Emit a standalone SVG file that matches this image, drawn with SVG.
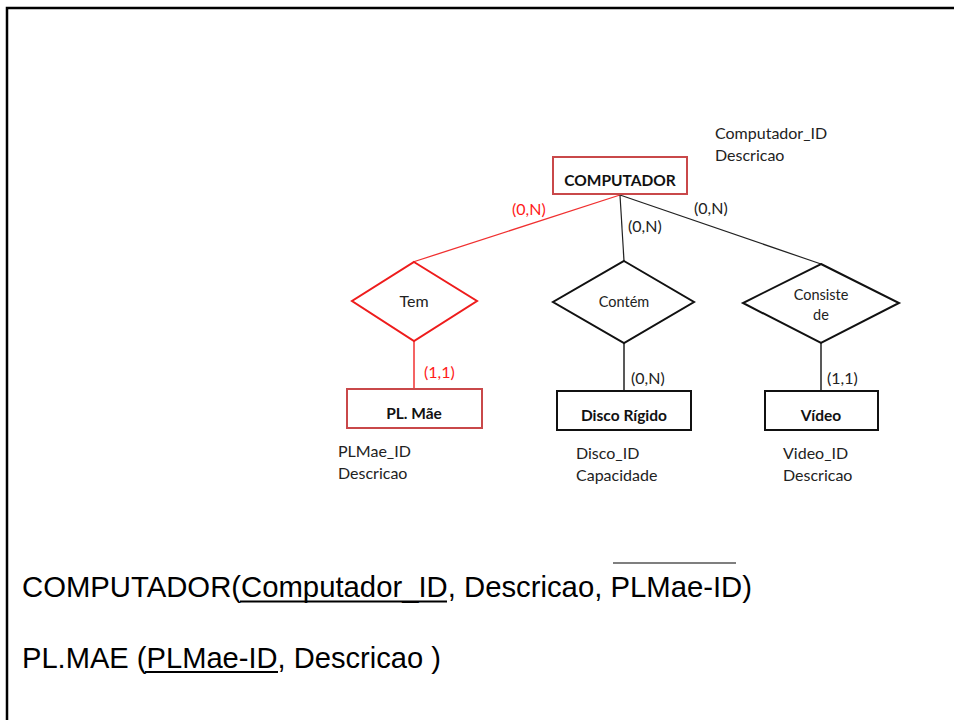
<svg xmlns="http://www.w3.org/2000/svg" width="954" height="720" viewBox="0 0 954 720">
<style>
.t{font-family:Lato,"Liberation Sans",sans-serif;font-size:16px;fill:#222}
.lb{font-family:Lato,"Liberation Sans",sans-serif;font-size:15.5px;font-weight:bold;fill:#111;text-anchor:middle}
.dl{font-family:Lato,"Liberation Sans",sans-serif;font-size:14.5px;fill:#222;text-anchor:middle}
.red{fill:#ff1a1a}
.ent{fill:#fff;stroke:#111;stroke-width:2}
.entr{fill:#fff;stroke:#c9484a;stroke-width:2}
.rel{fill:#fff;stroke:#111;stroke-width:2}
.relr{fill:#fff;stroke:#ee1c1c;stroke-width:2}
.big{font-family:"Liberation Sans",Arial,sans-serif;font-size:29px;fill:#000}
</style>
<rect x="0" y="0" width="954" height="720" fill="#fff"/>
<path d="M7,730 V8 H960" fill="none" stroke="#000" stroke-width="2.5"/>

<g id="connectors">
<line x1="620" y1="195" x2="413" y2="262" stroke="#f03030" stroke-width="1.3"/>
<line x1="620" y1="195" x2="624" y2="261" stroke="#222" stroke-width="1.2"/>
<line x1="620" y1="195" x2="821" y2="264" stroke="#222" stroke-width="1.2"/>
<line x1="414" y1="341" x2="414" y2="389" stroke="#f03030" stroke-width="1.5"/>
<line x1="624" y1="343" x2="624" y2="391" stroke="#222" stroke-width="1.5"/>
<line x1="821" y1="343" x2="821" y2="391" stroke="#222" stroke-width="1.5"/>
<text class="t red" x="512" y="215">(0,N)</text>
<text class="t" x="628" y="232">(0,N)</text>
<text class="t" x="694" y="214">(0,N)</text>
<text class="t red" x="424" y="378">(1,1)</text>
<text class="t" x="631" y="384">(0,N)</text>
<text class="t" x="827" y="384">(1,1)</text>
</g>

<g id="computador">
<rect class="entr" x="553" y="157" width="134" height="37"/>
<text class="lb" x="620" y="186">COMPUTADOR</text>
<text class="t" x="715" y="139">Computador_ID</text>
<text class="t" x="715" y="161">Descricao</text>
</g>

<g id="tem">
<polygon class="relr" points="414,262 477,301 414,341 352,301"/>
<text class="dl" x="414" y="307" style="font-size:16px">Tem</text>
</g>

<g id="contem">
<polygon class="rel" points="624,261 694,302 624,343 553,302"/>
<text class="dl" x="624" y="307">Contém</text>
</g>

<g id="consiste">
<polygon class="rel" points="821,264 899,303 821,343 743,303"/>
<text class="dl" x="821" y="300">Consiste</text>
<text class="dl" x="821" y="320">de</text>
</g>

<g id="plmae">
<rect class="entr" x="347" y="389" width="135" height="39"/>
<text class="lb" x="414" y="419">PL. Mãe</text>
<text class="t" x="338" y="457">PLMae_ID</text>
<text class="t" x="338" y="479">Descricao</text>
</g>

<g id="disco">
<rect class="ent" x="557" y="391" width="134" height="39"/>
<text class="lb" x="624" y="421">Disco Rígido</text>
<text class="t" x="576" y="459">Disco_ID</text>
<text class="t" x="576" y="481">Capacidade</text>
</g>

<g id="video">
<rect class="ent" x="765" y="391" width="113" height="39"/>
<text class="lb" x="821" y="421">Vídeo</text>
<text class="t" x="783" y="459">Video_ID</text>
<text class="t" x="783" y="481">Descricao</text>
</g>

<g id="schema">
<text class="big" x="22" y="597" textLength="730" lengthAdjust="spacingAndGlyphs">COMPUTADOR(Computador_ID, Descricao, PLMae-ID)</text>
<line x1="240" y1="601.5" x2="447" y2="601.5" stroke="#000" stroke-width="2.2"/>
<line x1="613" y1="563" x2="736" y2="563" stroke="#000" stroke-width="1.2"/>
<text class="big" x="22" y="668" textLength="419" lengthAdjust="spacingAndGlyphs">PL.MAE (PLMae-ID, Descricao )</text>
<line x1="145" y1="672" x2="278" y2="672" stroke="#000" stroke-width="2.2"/>
</g>
</svg>
